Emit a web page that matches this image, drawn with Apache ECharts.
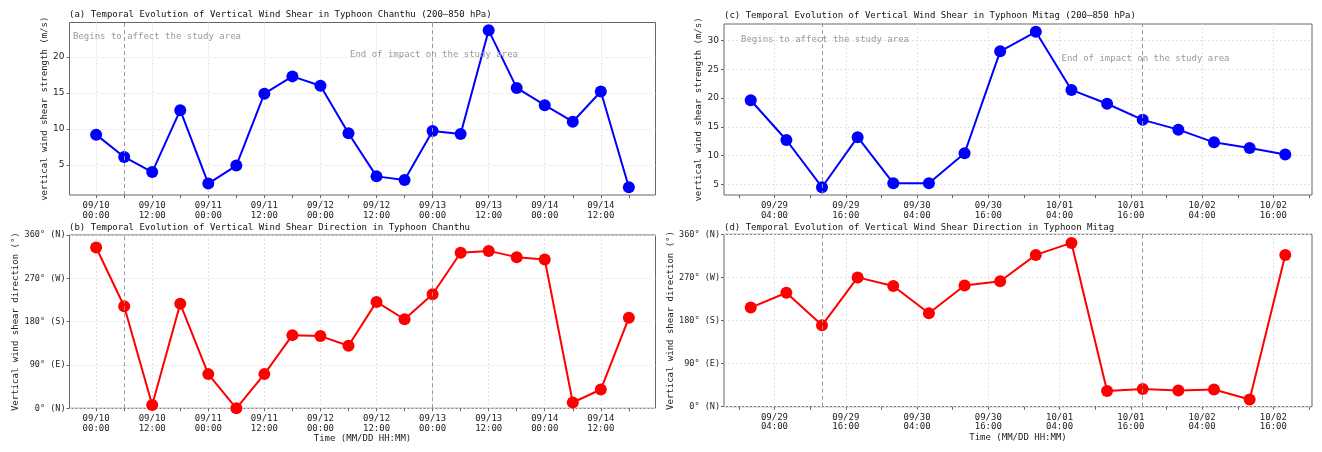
<!DOCTYPE html>
<html>
<head>
<meta charset="utf-8">
<script src="https://cdn.jsdelivr.net/npm/echarts@6/dist/echarts.min.js"></script>
<style>
  html, body { margin: 0; padding: 0; background: #fff; }
  #chart { width: 1322px; height: 452px; }
</style>
</head>
<body>
<div id="chart"></div>
<script>
// Typhoon Chanthu, 6-hourly
const chanthuTimes = ['09/10 00:00', '09/10 06:00', '09/10 12:00', '09/10 18:00', '09/11 00:00', '09/11 06:00',
  '09/11 12:00', '09/11 18:00', '09/12 00:00', '09/12 06:00', '09/12 12:00', '09/12 18:00', '09/13 00:00',
  '09/13 06:00', '09/13 12:00', '09/13 18:00', '09/14 00:00', '09/14 06:00', '09/14 12:00', '09/14 18:00']
const chanthuSpeed = [9.2, 6.1, 4.0, 12.6, 2.4, 4.9, 14.9, 17.3, 16.0, 9.4, 3.4, 2.9, 9.7, 9.3, 23.7, 15.7, 13.3, 11.0, 15.2, 1.9]
const chanthuDir = [334, 212, 7, 217, 71, 0, 71, 152, 150, 130, 221, 185, 237, 323, 327, 314, 309, 12, 39, 188]
const chanthuImpact = ['09/10 06:00', '09/13 00:00']
const chanthuLabelTicks = ['09/10 00:00', '09/10 12:00', '09/11 00:00', '09/11 12:00', '09/12 00:00',
  '09/12 12:00', '09/13 00:00', '09/13 12:00', '09/14 00:00', '09/14 12:00']
const chanthuSpeedTicks = [5, 10, 15, 20]

// Typhoon Mitag, 6-hourly
const mitagTimes = ['09/29 00:00', '09/29 06:00', '09/29 12:00', '09/29 18:00', '09/30 00:00', '09/30 06:00',
  '09/30 12:00', '09/30 18:00', '10/01 00:00', '10/01 06:00', '10/01 12:00', '10/01 18:00', '10/02 00:00',
  '10/02 06:00', '10/02 12:00', '10/02 18:00']
const mitagSpeed = [19.6, 12.7, 4.5, 13.2, 5.2, 5.2, 10.4, 28.1, 31.5, 21.4, 19.0, 16.2, 14.5, 12.3, 11.3, 10.2]
const mitagDir = [207, 238, 170, 270, 252, 195, 253, 262, 317, 342, 33, 37, 34, 36, 15, 317]
const mitagImpact = ['09/29 12:00', '10/01 18:00']
const mitagLabelTicks = ['09/29 04:00', '09/29 16:00', '09/30 04:00', '09/30 16:00', '10/01 04:00',
  '10/01 16:00', '10/02 04:00', '10/02 16:00']
const mitagTicks = ['09/28 22:00', '09/29 04:00', '09/29 10:00', '09/29 16:00', '09/29 22:00', '09/30 04:00',
  '09/30 10:00', '09/30 16:00', '09/30 22:00', '10/01 04:00', '10/01 10:00', '10/01 16:00', '10/01 22:00',
  '10/02 04:00', '10/02 10:00', '10/02 16:00', '10/02 22:00']
const mitagSpeedTicks = [5, 10, 15, 20, 25, 30]

const dirTicks = [0, 90, 180, 270, 360]
const dirNames = ['N', 'E', 'S', 'W', 'N']

const MONO = 'DejaVu Sans Mono'
const SANS = 'DejaVu Sans'

// 'MM/DD HH:MM' -> hours
function toHours(s) {
  const [md, hm] = s.split(' ')
  const [mo, d] = md.split('/').map(Number)
  const [h, mi] = hm.split(':').map(Number)
  return Date.UTC(2021, mo - 1, d, h, mi) / 3600000
}
function fmtTime(v) {
  const dt = new Date(Math.round(v * 60) * 60000)
  const p = (n) => String(n).padStart(2, '0')
  return p(dt.getUTCMonth() + 1) + '/' + p(dt.getUTCDate()) + '\n' + p(dt.getUTCHours()) + ':' + p(dt.getUTCMinutes())
}
// matplotlib-like 5% margins
function padded(vals) {
  const lo = Math.min(...vals)
  const hi = Math.max(...vals)
  const pad = (hi - lo) * 0.05
  return [lo - pad, hi + pad]
}

const panels = [
  {
    grid: { left: 69.5, top: 22.5, width: 586, height: 172.5 },
    times: chanthuTimes, values: chanthuSpeed, ticks: chanthuTimes, labels: chanthuLabelTicks,
    impact: chanthuImpact, yTicks: chanthuSpeedTicks, yRange: padded(chanthuSpeed), dir: false,
    color: '#0000ff', yName: 'vertical wind shear strength (m/s)', yGap: 16, xName: '',
  },
  {
    grid: { left: 69.5, top: 235, width: 586, height: 173.3 },
    times: chanthuTimes, values: chanthuDir, ticks: chanthuTimes, labels: chanthuLabelTicks,
    impact: chanthuImpact, yTicks: dirTicks, yRange: [0, 360], dir: true,
    color: '#ff0000', yName: 'Vertical wind shear direction (°)', yGap: 49, xName: 'Time (MM/DD HH:MM)',
  },
  {
    grid: { left: 724, top: 24, width: 588, height: 171 },
    times: mitagTimes, values: mitagSpeed, ticks: mitagTicks, labels: mitagLabelTicks,
    impact: mitagImpact, yTicks: mitagSpeedTicks, yRange: padded(mitagSpeed), dir: false,
    color: '#0000ff', yName: 'vertical wind shear strength (m/s)', yGap: 14, xName: '',
  },
  {
    grid: { left: 724, top: 234.3, width: 588, height: 172.4 },
    times: mitagTimes, values: mitagDir, ticks: mitagTicks, labels: mitagLabelTicks,
    impact: mitagImpact, yTicks: dirTicks, yRange: [0, 360], dir: true,
    color: '#ff0000', yName: 'Vertical wind shear direction (°)', yGap: 48, xName: 'Time (MM/DD HH:MM)',
  },
]

const titles = [
  { text: '(a) Temporal Evolution of Vertical Wind Shear in Typhoon Chanthu (200—850 hPa)', left: 69, top: 10 },
  { text: '(b) Temporal Evolution of Vertical Wind Shear Direction in Typhoon Chanthu', left: 69, top: 223 },
  { text: '(c) Temporal Evolution of Vertical Wind Shear in Typhoon Mitag (200—850 hPa)', left: 724, top: 11.5 },
  { text: '(d) Temporal Evolution of Vertical Wind Shear Direction in Typhoon Mitag', left: 724, top: 223 },
]

const notes = [
  { text: 'Begins to affect the study area', left: 73, top: 32 },
  { text: 'End of impact on the study area', left: 350, top: 50 },
  { text: 'Begins to affect the study area', left: 741, top: 35.5 },
  { text: 'End of impact on the study area', left: 1061.5, top: 54 },
]

const gridLine = { show: true, lineStyle: { color: '#e2e2e2', type: [2, 2], width: 1 } }
const frame = '#666'

const xAxes = []
const yAxes = []
const series = []
panels.forEach((p, i) => {
  const xs = p.times.map(toHours)
  const [xmin, xmax] = padded(xs)
  xAxes.push({
    type: 'value', gridIndex: i, min: xmin, max: xmax,
    axisLine: { show: false },
    axisTick: { show: true, length: 3, customValues: p.ticks.map(toHours), lineStyle: { color: frame } },
    axisLabel: {
      customValues: p.labels.map(toHours), formatter: fmtTime, fontFamily: MONO, fontSize: 9,
      lineHeight: 9.5, color: '#222', margin: 6,
    },
    splitLine: { show: false },
    name: p.xName, nameLocation: 'middle', nameGap: 26,
    nameTextStyle: { fontFamily: MONO, fontSize: 9, color: '#222' },
  })
  // second axis only for vertical grid lines at labelled ticks
  xAxes.push({
    type: 'value', gridIndex: i, min: xmin, max: xmax, position: 'top',
    axisLine: { show: false },
    axisTick: { show: false, customValues: p.labels.map(toHours) },
    axisLabel: { show: false },
    splitLine: gridLine,
  })
  yAxes.push({
    type: 'value', gridIndex: i, min: p.yRange[0], max: p.yRange[1],
    axisLine: { show: false },
    axisTick: { show: true, length: 3, customValues: p.yTicks, lineStyle: { color: frame } },
    axisLabel: p.dir
      ? {
          customValues: p.yTicks, fontFamily: MONO, fontSize: 8.5, color: '#222', margin: 4,
          formatter: (v) => (v + '°').padStart(4, ' ') + ' (' + dirNames[dirTicks.indexOf(v)] + ')',
        }
      : { customValues: p.yTicks, fontFamily: SANS, fontSize: 9, color: '#222', margin: 5 },
    splitLine: gridLine,
    name: p.yName, nameLocation: 'middle', nameGap: p.yGap,
    nameTextStyle: { fontFamily: MONO, fontSize: 9, color: '#222' },
  })
  series.push({
    type: 'line', xAxisIndex: i * 2, yAxisIndex: i,
    data: xs.map((x, k) => [x, p.values[k]]),
    symbol: 'circle', symbolSize: 12,
    itemStyle: { color: p.color },
    lineStyle: { color: p.color, width: 2 },
    clip: false,
    markLine: {
      silent: true, symbol: 'none', label: { show: false },
      lineStyle: { type: [4, 3], color: '#9a9a9a', width: 1 },
      data: p.impact.map((t) => ({ xAxis: toHours(t) })),
    },
  })
})

const chart = echarts.init(document.getElementById('chart'), null, { renderer: 'canvas' })
chart.setOption({
  animation: false,
  backgroundColor: '#fff',
  textStyle: { fontFamily: MONO },
  title: titles.map((t) => ({
    text: t.text, left: t.left, top: t.top, padding: 0,
    textStyle: { fontFamily: MONO, fontSize: 9, fontWeight: 'normal', color: '#111' },
  })),
  grid: panels.map((p) => ({ ...p.grid, show: true, borderColor: frame, borderWidth: 1 })),
  xAxis: xAxes,
  yAxis: yAxes,
  series,
  graphic: notes.map((n) => ({
    type: 'text', left: n.left, top: n.top, z: 10,
    style: { text: n.text, fill: '#999', font: '9px "DejaVu Sans Mono"' },
  })),
})
</script>
</body>
</html>
